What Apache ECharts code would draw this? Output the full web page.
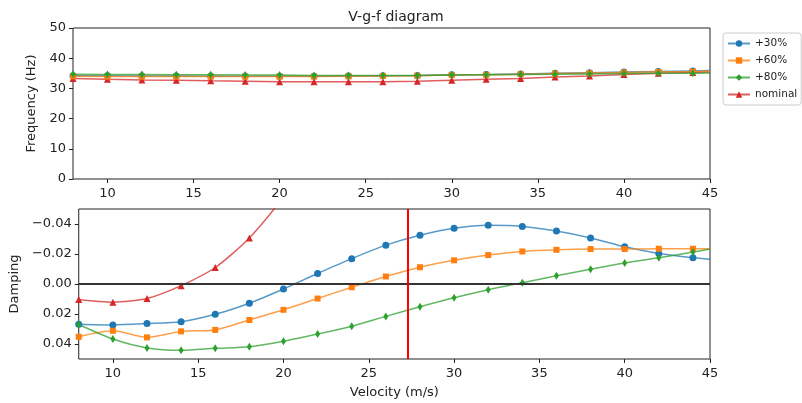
<!DOCTYPE html>
<html>
<head>
<meta charset="utf-8">
<script src="https://cdn.jsdelivr.net/npm/echarts@6/dist/echarts.min.js"></script>
<style>
  html, body { margin: 0; padding: 0; background: #fff; }
  #chart { width: 802px; height: 403px; }
</style>
</head>
<body>
<div id="chart"></div>
<script>
// velocities (m/s); last entry is the right edge of the plot, drawn without a marker
var vel = [8,10,12,14,16,18,20,22,24,26,28,30,32,34,36,38,40,42,44,45];
var xTicks = [10,15,20,25,30,35,40,45];
var dampTicks = [-0.04,-0.02,0,0.02,0.04];
var flutterSpeed = 27.3;

// frequency (Hz)
var freq30 = [34.2,34.2,34.1,34.1,34.0,34.0,34.0,34.0,34.1,34.2,34.3,34.5,34.6,34.8,35.0,35.2,35.4,35.6,35.8,35.9];
var freq60 = [34.0,33.9,33.9,33.9,33.9,33.9,33.9,33.9,34.0,34.1,34.2,34.4,34.5,34.7,34.9,35.1,35.3,35.5,35.6,35.7];
var freq80 = [34.7,34.6,34.6,34.5,34.5,34.4,34.4,34.3,34.3,34.3,34.3,34.4,34.5,34.6,34.7,34.8,34.9,35.0,35.0,35.1];
var freqNom = [33.3,33.0,32.8,32.7,32.5,32.4,32.2,32.2,32.2,32.2,32.4,32.7,33.0,33.3,33.8,34.1,34.6,35.0,35.3,35.4];

// damping
var damp30 = [0.0268,0.0273,0.0264,0.0251,0.0202,0.0128,0.0033,-0.0070,-0.0169,-0.0259,-0.0325,-0.0371,-0.0391,-0.0384,-0.0353,-0.0307,-0.0248,-0.0204,-0.0175,-0.0165];
var damp60 = [0.0352,0.0312,0.0356,0.0316,0.0306,0.0240,0.0172,0.0097,0.0022,-0.0050,-0.0112,-0.0158,-0.0193,-0.0217,-0.0228,-0.0233,-0.0233,-0.0235,-0.0235,-0.0235];
var damp80 = [0.0270,0.0367,0.0426,0.0442,0.0429,0.0418,0.0382,0.0334,0.0281,0.0216,0.0152,0.0092,0.0038,-0.0009,-0.0055,-0.0099,-0.0140,-0.0175,-0.0213,-0.0233];
var dampNom = [0.0103,0.0121,0.0097,0.0011,-0.0110,-0.0307,-0.0580,-0.0900];

var names = ['+30%','+60%','+80%','nominal'];
var colors = ['#1f77b4','#ff7f0e','#2ca02c','#d62728'];
var symbols = ['circle','rect','diamond','triangle'];
var symSizes = [7,6,[5,8],7];

function pts(ys) {
  return ys.map(function(y, i){
    var p = { value: [vel[i], y] };
    if (vel[i] === 45) p.symbol = 'none';
    return p;
  });
}

var el = document.getElementById('chart');
var c = echarts.init(el);
var txt = '#222';
var font = 'DejaVu Sans';

function xAxis(idx, showName) {
  return {
    type:'value', gridIndex:idx, min:8, max:45, position:'bottom',
    name: showName ? 'Velocity (m/s)' : '', nameLocation:'middle', nameGap:27,
    nameTextStyle:{color:txt, fontSize:13, fontFamily:font},
    axisLine:{show:false, onZero:false},
    axisTick:{show:true, length:4, lineStyle:{color:txt}, customValues:xTicks},
    axisLabel:{color:txt, fontSize:13, fontFamily:font, margin:8, customValues:xTicks},
    splitLine:{show:false}
  };
}

var freqSets = [freq30, freq60, freq80, freqNom];
var dampSets = [damp30, damp60, damp80, dampNom];
var series = [];
for (var k = 0; k < 4; k++) {
  series.push({
    name:names[k], type:'line', xAxisIndex:0, yAxisIndex:0,
    data:pts(freqSets[k]), symbol:symbols[k], symbolSize:symSizes[k],
    itemStyle:{color:colors[k]}, lineStyle:{width:1.5, opacity:0.75},
    z: 2 + (k === 3 ? 0 : k)
  });
}
for (var j = 0; j < 4; j++) {
  var s = {
    name:names[j], type:'line', xAxisIndex:1, yAxisIndex:1,
    data:pts(dampSets[j]), symbol:symbols[j], symbolSize:symSizes[j],
    itemStyle:{color:colors[j]}, lineStyle:{width:1.5, opacity:0.75},
    smooth:0.25, clip:true
  };
  if (j === 0) {
    s.markLine = {
      silent:true, symbol:'none', animation:false, label:{show:false},
      data:[
        { yAxis:0, lineStyle:{color:'#333', width:2, type:'solid'} },
        { xAxis:flutterSpeed, lineStyle:{color:'#ff0000', width:2, type:'solid'} }
      ]
    };
  }
  series.push(s);
}

c.setOption({
  animation:false,
  title:{text:'V-g-f diagram', left:391, top:5, textAlign:'center',
    textStyle:{color:txt, fontSize:14, fontWeight:'normal', fontFamily:font}},
  legend:{
    data:names, orient:'vertical', left:723, top:33,
    itemWidth:22, itemHeight:8, itemGap:6,
    padding:[5,4,5,4], borderColor:'#ccc', borderWidth:1, borderRadius:3,
    textStyle:{color:txt, fontSize:10.5, fontFamily:font}
  },
  grid:[
    {left:73, right:92, top:28, height:151, show:true, borderColor:txt, borderWidth:1},
    {left:73, right:92, top:209, height:150, show:true, borderColor:txt, borderWidth:1}
  ],
  xAxis:[xAxis(0,false), xAxis(1,true)],
  yAxis:[
    {type:'value', gridIndex:0, min:0, max:50, interval:10,
      name:'Frequency (Hz)', nameLocation:'middle', nameGap:24, nameRotate:90,
      nameTextStyle:{color:txt, fontSize:13, fontFamily:font},
      axisLine:{show:false}, axisTick:{show:true, length:4, lineStyle:{color:txt}},
      axisLabel:{color:txt, fontSize:13, fontFamily:font, margin:7},
      splitLine:{show:false}},
    {type:'value', gridIndex:1, min:-0.05, max:0.05, inverse:true,
      name:'Damping', nameLocation:'middle', nameGap:46, nameRotate:90,
      nameTextStyle:{color:txt, fontSize:13, fontFamily:font},
      axisLine:{show:false},
      axisTick:{show:true, length:4, lineStyle:{color:txt}, customValues:dampTicks},
      axisLabel:{color:txt, fontSize:13, fontFamily:font, margin:7, customValues:dampTicks,
        formatter:function(v){ return (v < 0 ? '\u2212' : '') + Math.abs(v).toFixed(2); }},
      splitLine:{show:false}}
  ],
  series:series
});
window.addEventListener('resize', function(){ c.resize(); });
</script>
</body>
</html>
